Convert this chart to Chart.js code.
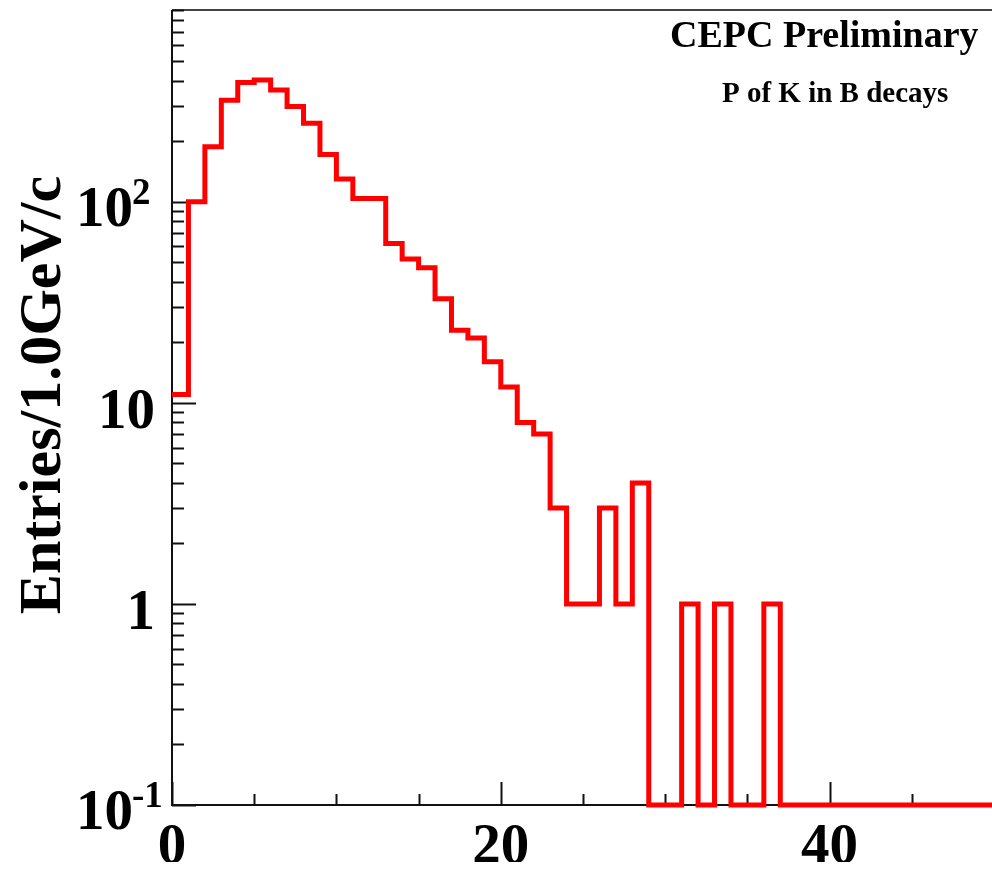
<!DOCTYPE html>
<html>
<head>
<meta charset="utf-8">
<title>P of K in B decays</title>
<script src="https://cdn.jsdelivr.net/npm/chart.js@4"></script>
<style>
    html, body { margin: 0; padding: 0; background: #fff; overflow: hidden; }
    #histCanvas { display: block; }
</style>
</head>
<body>
<canvas id="histCanvas" width="1000" height="870"></canvas>
<script>
// Bin edges (GeV/c) and entries per 1 GeV/c bin
const binEdges = [0, 1, 2, 3, 4, 5, 6, 7, 8, 9, 10, 11, 12, 13, 14, 15, 16, 17, 18, 19, 20,
    21, 22, 23, 24, 25, 26, 27, 28, 29, 30, 31, 32, 33, 34, 35, 36, 37, 38, 39, 40,
    41, 42, 43, 44, 45, 46, 47, 48, 49, 50];
const counts = [11, 100, 188, 320, 392, 404, 360, 298, 246, 172,
    130, 104, 104, 62, 52, 47, 33, 23, 21, 16,
    12, 8, 7, 3, 1, 1, 3, 1, 4, 0,
    0, 1, 0, 1, 0, 0, 1, 0, 0, 0,
    0, 0, 0, 0, 0, 0, 0, 0, 0, 0];

// Axis ranges and labelled ticks
const xMin = 0, xMax = 50;
const yMin = 0.1, yMax = 900;
const xTickValues = [0, 20, 40];
const xTickLabels = ['0', '20', '40'];
const yTickValues = [0.1, 1, 10, 100];
const yTickBase = ['10', '1', '10', '10'];
const yTickExp = ['-1', '', '', '2'];

const yTitle = 'Entries/1.0GeV/c';
const mainLabel = 'CEPC Preliminary';
const subLabel = 'P of K in B decays';

const SERIF = '"Liberation Serif", "Times New Roman", serif';

// histogram outline: one point per bin low edge, plus the last upper edge
// empty bins sit on the bottom of the log axis, like ROOT does
const points = binEdges.map((edge, i) => {
    const v = i < counts.length ? counts[i] : counts[counts.length - 1];
    return { x: edge, y: v > 0 ? v : yMin };
});

// ROOT style frame + inside ticks
const rootAxes = {
    id: 'rootAxes',
    beforeDatasetsDraw(chart) {
        const { ctx, chartArea: a, scales: { x, y } } = chart;
        ctx.save();
        ctx.lineWidth = 2;

        ctx.strokeStyle = '#444';
        ctx.beginPath();
        ctx.moveTo(a.left, a.top);
        ctx.lineTo(a.right, a.top);
        ctx.stroke();

        ctx.strokeStyle = '#111';
        ctx.beginPath();
        ctx.moveTo(a.left, a.top);
        ctx.lineTo(a.left, a.bottom);
        ctx.lineTo(a.right, a.bottom);

        // y: decades long, 2..9 short
        for (let d = -1; d <= 3; d++) {
            for (let m = 1; m <= 9; m++) {
                const v = m * Math.pow(10, d);
                if (v < yMin * 0.999 || v > yMax * 1.001) continue;
                const py = Math.round(y.getPixelForValue(v)) + 0.5;
                const len = m === 1 ? 24 : 12;
                ctx.moveTo(a.left, py);
                ctx.lineTo(a.left + len, py);
            }
        }
        // x: every 5, long at multiples of 20
        for (let v = xMin; v <= xMax; v += 5) {
            const px = Math.round(x.getPixelForValue(v)) + 0.5;
            const len = v % 20 === 0 ? 23 : 11;
            ctx.moveTo(px, a.bottom);
            ctx.lineTo(px, a.bottom - len);
        }
        ctx.stroke();
        ctx.restore();
    },
    afterDraw(chart) {
        const { ctx, scales: { x, y } } = chart;
        ctx.save();
        ctx.fillStyle = '#000';

        // y tick labels with superscripts
        ctx.textBaseline = 'alphabetic';
        yTickValues.forEach((v, i) => {
            const py = y.getPixelForValue(v);
            if (yTickExp[i]) {
                ctx.font = 'bold 37px ' + SERIF;
                ctx.textAlign = 'left';
                ctx.fillText(yTickExp[i], 132, py + 2);
                ctx.font = 'bold 57px ' + SERIF;
                ctx.textAlign = 'right';
                ctx.fillText(yTickBase[i], 133, py + 24);
            } else {
                ctx.font = 'bold 57px ' + SERIF;
                ctx.textAlign = 'right';
                ctx.fillText(yTickBase[i], 155, py + 25);
            }
        });

        // x tick labels, cut at the bottom like the original picture
        ctx.save();
        ctx.beginPath();
        ctx.rect(0, 806, chart.width, 56);
        ctx.clip();
        ctx.font = 'bold 57px ' + SERIF;
        ctx.textAlign = 'center';
        xTickValues.forEach((v, i) => {
            ctx.fillText(xTickLabels[i], x.getPixelForValue(v), 863);
        });
        ctx.restore();

        // y axis title
        ctx.save();
        ctx.translate(60, 395);
        ctx.rotate(-Math.PI / 2);
        ctx.font = 'bold 60px ' + SERIF;
        ctx.textAlign = 'center';
        ctx.fillText(yTitle, 0, 0);
        ctx.restore();

        // labels in the top right corner
        ctx.textAlign = 'left';
        ctx.font = 'bold 38px ' + SERIF;
        ctx.fillText(mainLabel, 670, 47);
        ctx.font = 'bold 29px ' + SERIF;
        ctx.fillText(subLabel, 722, 102);

        ctx.restore();
    }
};

document.addEventListener('DOMContentLoaded', function() {
    const ctx = document.getElementById('histCanvas');
    new Chart(ctx, {
        type: 'line',
        data: {
            datasets: [{
                data: points,
                stepped: 'before',
                borderColor: '#ff0000',
                borderWidth: 5,
                borderJoinStyle: 'miter',
                borderCapStyle: 'butt',
                pointRadius: 0,
                fill: false,
                tension: 0,
                clip: 8
            }]
        },
        options: {
            responsive: false,
            devicePixelRatio: 1,
            animation: false,
            layout: { padding: { top: 10, right: 6, left: 0, bottom: 0 } },
            plugins: {
                legend: { display: false },
                tooltip: { enabled: false }
            },
            scales: {
                x: {
                    type: 'linear',
                    min: xMin,
                    max: xMax,
                    grid: { display: false },
                    border: { display: false },
                    ticks: { display: false },
                    afterFit: (scale) => { scale.height = 65; }
                },
                y: {
                    type: 'logarithmic',
                    min: yMin,
                    max: yMax,
                    grid: { display: false },
                    border: { display: false },
                    ticks: { display: false },
                    afterFit: (scale) => { scale.width = 172; }
                }
            }
        },
        plugins: [rootAxes]
    });
});
</script>
</body>
</html>
